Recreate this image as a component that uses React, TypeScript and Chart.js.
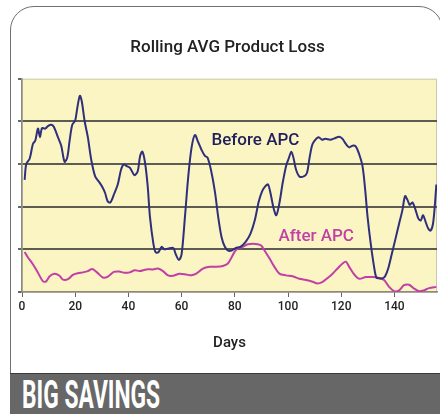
import React, { useEffect, useRef } from "react";
import { Chart, registerables } from "chart.js";

Chart.register(...registerables);

const TITLE = "Rolling AVG Product Loss";
const X_TITLE = "Days";
const BANNER = "BIG SAVINGS";
const SERIES_NAMES = ["Before APC", "After APC"];

const beforeDays = [
  1, 1.6, 2.9, 4.1, 5, 6, 6.75, 7.5, 8.75, 9.75, 11, 12, 13.5, 14.75, 16, 17, 17.9, 18.9, 20, 20.75,
  21.75, 22.5, 23.5, 24.75, 26, 27.5, 29.1, 30.4, 31.25, 32.25, 33.25, 34.75, 36, 37.25, 38.25, 39.4,
  40.6, 42.25, 43.5, 44.4, 45.25, 46.25, 47.25, 48.1, 49.4, 50.25, 51.25, 52.5, 53.5, 55, 56.9, 57.75,
  59, 60, 61.25, 62.5, 63.75, 65, 66.25, 67.5, 68.75, 69.75, 71, 72.5, 73.75, 75, 76.25, 77.5, 78.75,
  80.25, 82.1, 84, 85.9, 87.5, 89, 90.25, 91.5, 92.5, 93.4, 94.6, 95.6, 96.75, 98, 99.25, 100.25,
  101.25, 102.1, 103, 104.25, 105.9, 107.1, 108, 109, 110, 111.5, 112.75, 114, 115.9, 117.4, 119.25,
  120.5, 121.75, 123, 124.25, 125.5, 126.75, 128, 129, 129.9, 131.1, 132.4, 133.25, 134.25, 135.5,
  136.5, 137.75, 139, 140.25, 141.75, 143, 144, 144.9, 145.75, 146.75, 147.75, 149, 149.9, 150.75,
  151.75, 152.75, 153.6, 154.5, 155.25, 155.75,
];
const beforeValues = [
  2.63, 3.0, 3.13, 3.47, 3.55, 3.83, 3.63, 3.84, 3.83, 3.89, 3.92, 3.87, 3.63, 3.43, 3.05, 3.15, 3.55,
  3.92, 4.02, 4.3, 4.6, 4.46, 4.02, 3.63, 3.11, 2.71, 2.57, 2.44, 2.32, 2.12, 2.1, 2.32, 2.52, 2.87,
  2.99, 2.95, 2.91, 2.74, 2.83, 3.19, 3.29, 3.03, 2.48, 1.76, 1.13, 0.93, 0.93, 1.06, 1.0, 1.02, 1.03,
  0.89, 0.75, 0.89, 1.76, 2.71, 3.39, 3.68, 3.51, 3.33, 3.19, 3.15, 2.87, 2.36, 1.76, 1.29, 1.06, 0.97,
  0.97, 1.03, 1.06, 1.17, 1.37, 1.68, 2.12, 2.36, 2.48, 2.52, 2.32, 1.96, 1.8, 2.08, 2.56, 2.95, 3.13,
  3.29, 3.13, 2.87, 2.71, 2.71, 2.79, 3.11, 3.43, 3.55, 3.63, 3.57, 3.59, 3.57, 3.6, 3.64, 3.59, 3.47,
  3.39, 3.43, 3.41, 3.23, 2.95, 2.4, 1.76, 1.13, 0.57, 0.33, 0.32, 0.32, 0.37, 0.57, 0.89, 1.21, 1.6,
  1.92, 2.25, 2.16, 2.04, 2.1, 1.96, 1.72, 1.68, 1.8, 1.64, 1.48, 1.44, 1.6, 2.08, 2.52,
];

const afterDays = [
  1, 2.25, 4.1, 6, 7.9, 9.1, 10.4, 12.3, 14.1, 15.4, 17.3, 19.1, 21, 22.9, 24.75, 26.4, 28.2, 30.4,
  32.3, 34.5, 36.5, 38.5, 40.5, 42.4, 44.25, 46.75, 49.25, 51.1, 53, 54.9, 56.75, 59.25, 61.75, 63.6,
  65.5, 68, 70.5, 73, 75.5, 77.4, 78.6, 79.9, 81.1, 83, 84.9, 86.75, 88.6, 89.9, 91.1, 93, 94.9, 96.75,
  99.25, 101.75, 104.25, 106.75, 109.25, 111.1, 113, 114.9, 116.75, 118.6, 120.5, 121.75, 123, 124.9,
  126.75, 129.25, 131.75, 134.25, 136.1, 138, 139.9, 141.75, 143.6, 145.5, 147.4, 149.25, 151.1, 153,
  155.75,
];
const afterValues = [
  0.94, 0.81, 0.65, 0.45, 0.25, 0.25, 0.37, 0.43, 0.38, 0.29, 0.3, 0.4, 0.44, 0.46, 0.49, 0.54, 0.46,
  0.34, 0.36, 0.47, 0.48, 0.45, 0.46, 0.51, 0.49, 0.53, 0.53, 0.55, 0.49, 0.39, 0.38, 0.43, 0.41, 0.39,
  0.43, 0.55, 0.59, 0.59, 0.61, 0.67, 0.79, 0.94, 1.02, 1.06, 1.12, 1.13, 1.12, 1.09, 0.98, 0.79, 0.59,
  0.43, 0.39, 0.37, 0.31, 0.28, 0.24, 0.2, 0.24, 0.33, 0.43, 0.55, 0.67, 0.71, 0.59, 0.41, 0.31, 0.35,
  0.35, 0.33, 0.28, 0.12, 0.02, 0.04, 0.16, 0.17, 0.08, 0.02, 0.04, 0.09, 0.12,
];

const X_MIN = 0;
const X_MAX = 156;
const X_STEP = 20;
const Y_MIN = 0;
const Y_MAX = 5;

// label anchors in data units
const labelDays = [87.75, 110.6];
const labelValues = [3.54, 1.3];

const NAVY = "#2f2f7c";
const NAVY_TEXT = "#1f1f5c";
const MAGENTA = "#c23fa6";
const PLOT_BG = "#faf5c3";
const GRID = "#5d5c52";

export default function App() {
  const ref = useRef<HTMLCanvasElement | null>(null);

  useEffect(() => {
    if (!ref.current) return;
    const bgPlugin = {
      id: "plotbg",
      beforeDraw(chart: any) {
        const { ctx, chartArea: a } = chart;
        ctx.save();
        ctx.fillStyle = PLOT_BG;
        ctx.fillRect(a.left, a.top, a.right - a.left, a.bottom - a.top);
        ctx.strokeStyle = "#c8c6b4";
        ctx.lineWidth = 1;
        ctx.strokeRect(a.left + 0.5, a.top + 0.5, a.right - a.left - 1, a.bottom - a.top);
        ctx.restore();
      },
    };
    const labelPlugin = {
      id: "serieslabels",
      afterDatasetsDraw(chart: any) {
        const { ctx, scales } = chart;
        ctx.save();
        ctx.font = "500 17px Roboto";
        ctx.textAlign = "center";
        ctx.textBaseline = "middle";
        const colors = [NAVY_TEXT, MAGENTA];
        SERIES_NAMES.forEach((name, i) => {
          ctx.fillStyle = colors[i];
          ctx.fillText(name, scales.x.getPixelForValue(labelDays[i]), scales.y.getPixelForValue(labelValues[i]));
        });
        ctx.restore();
      },
    };
    const chart = new Chart(ref.current, {
      type: "line",
      data: {
        datasets: [
          {
            label: SERIES_NAMES[0],
            data: beforeDays.map((d, i) => ({ x: d, y: beforeValues[i] })),
            borderColor: NAVY,
            borderWidth: 2,
            pointRadius: 0,
            tension: 0.3,
            fill: false,
          },
          {
            label: SERIES_NAMES[1],
            data: afterDays.map((d, i) => ({ x: d, y: afterValues[i] })),
            borderColor: MAGENTA,
            borderWidth: 2,
            pointRadius: 0,
            tension: 0.3,
            fill: false,
          },
        ],
      },
      options: {
        animation: false,
        responsive: true,
        maintainAspectRatio: false,
        layout: { padding: { left: 18, right: 3, top: 0, bottom: 0 } },
        plugins: {
          legend: { display: false },
          tooltip: { enabled: false },
          title: {
            display: true,
            text: TITLE,
            color: "#222",
            font: { family: "Roboto", size: 17, weight: "500", lineHeight: 1.2 },
            padding: { top: 37.5, bottom: 20.8 },
          },
        },
        scales: {
          x: {
            type: "linear",
            min: X_MIN,
            max: X_MAX,
            border: { display: true, color: "#8a8a80", width: 1.5 },
            grid: { display: true, drawOnChartArea: false, drawTicks: true, tickLength: 5, tickColor: "#666" },
            ticks: {
              stepSize: X_STEP,
              includeBounds: false,
              color: "#222",
              padding: 3,
              maxRotation: 0,
              font: { family: "Roboto", size: 12, weight: "500", lineHeight: 1.2 },
            },
            title: {
              display: true,
              text: X_TITLE,
              color: "#222",
              font: { family: "Roboto", size: 15, weight: "500", lineHeight: 1.2 },
              padding: { top: 16.6, bottom: 21 },
            },
          },
          y: {
            min: Y_MIN,
            max: Y_MAX,
            border: { display: true, color: "#8a8a80", width: 1.5 },
            grid: {
              display: true,
              drawTicks: true,
              tickLength: 4,
              lineWidth: 2,
              color: (c: any) => (c.tick && (c.tick.value === Y_MAX || c.tick.value === Y_MIN) ? "rgba(0,0,0,0)" : GRID),
              tickColor: "#666",
            },
            ticks: { display: false, stepSize: 1 },
          },
        },
      },
      plugins: [bgPlugin, labelPlugin],
    });
    return () => chart.destroy();
  }, []);

  return (
    <div style={{ position: "fixed", left: 0, top: 0, width: 440, height: 414, overflow: "hidden", background: "#fff" }}>
      <div
        style={{
          position: "absolute",
          left: 10,
          top: 6,
          width: 433,
          height: 440,
          border: "1.5px solid #707070",
          borderRadius: 24,
          boxSizing: "border-box",
        }}
      />
      <div style={{ position: "absolute", left: 0, top: 0, width: 440, height: 373 }}>
        <canvas ref={ref} />
      </div>
      <div
        style={{
          position: "absolute",
          left: 10,
          top: 373,
          width: 430,
          height: 41,
          background: "#676767",
          borderTop: "1.5px solid #3a3a3a",
          boxSizing: "border-box",
          overflow: "hidden",
        }}
      >
        <span
          style={{
            position: "absolute",
            left: 12,
            top: 2,
            display: "inline-block",
            color: "#fff",
            fontFamily: "Roboto",
            fontWeight: 700,
            fontSize: 38,
            lineHeight: "38px",
            whiteSpace: "nowrap",
            transform: "scaleX(0.6)",
            transformOrigin: "left top",
          }}
        >
          {BANNER}
        </span>
      </div>
    </div>
  );
}
